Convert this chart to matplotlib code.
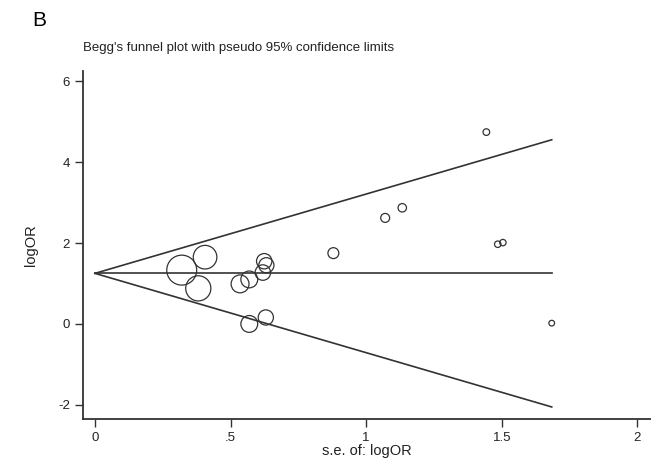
import numpy as np
import matplotlib.pyplot as plt

plt.rcParams['font.family'] = ['Liberation Sans', 'DejaVu Sans']
plt.rcParams['axes.unicode_minus'] = False

# study standard errors and log odds ratios
se = np.array([0.32, 0.406, 0.381, 0.535, 0.569, 0.619, 0.624, 0.632, 0.569, 0.63,
               0.879, 1.07, 1.133, 1.443, 1.485, 1.504, 1.684])
logor = np.array([1.33, 1.65, 0.88, 0.99, 1.10, 1.27, 1.55, 1.45, 0.0, 0.16,
                  1.75, 2.62, 2.87, 4.74, 1.97, 2.01, 0.02])
pooled = 1.25
x_ticks = [0, 0.5, 1, 1.5, 2]
x_tick_labels = ['0', '.5', '1', '1.5', '2']
y_ticks = [-2, 0, 2, 4, 6]

fig = plt.figure(figsize=(6.51, 4.58), dpi=100)
ax = fig.add_axes([0.1275, 0.085, 0.8725, 0.76])

col = '#333333'
se_max = se.max()
ax.plot([0, se_max], [pooled, pooled], color=col, lw=1.2)
ax.plot([0, se_max], [pooled, pooled + 1.96 * se_max], color=col, lw=1.2)
ax.plot([0, se_max], [pooled, pooled - 1.96 * se_max], color=col, lw=1.2)

# marker area proportional to weight 1/se^2
sizes = (6.9 / se) ** 2
ax.scatter(se, logor, s=sizes, facecolors='none', edgecolors=col, linewidths=0.9, zorder=3)

ax.set_xlim(-0.044, 2.05)
ax.set_ylim(-2.35, 6.25)
ax.set_xticks(x_ticks)
ax.set_xticklabels(x_tick_labels)
ax.set_yticks(y_ticks)
for s in ['top', 'right']:
    ax.spines[s].set_visible(False)
for s in ['left', 'bottom']:
    ax.spines[s].set_color(col)
    ax.spines[s].set_linewidth(1.3)
ax.tick_params(direction='out', length=5.5, width=1, colors=col, labelsize=9.5,
               labelcolor='#222222', pad=4)
ax.set_xlabel('s.e. of: logOR', fontsize=10.5, color='#222222', labelpad=0)
ax.set_ylabel('logOR', fontsize=10.5, color='#222222', labelpad=14)

fig.text(0.128, 0.888, "Begg's funnel plot with pseudo 95% confidence limits", fontsize=9.5, color='#222222')
fig.text(0.049, 0.955, 'B', fontsize=15, color='black', va='center')

fig.savefig('out.png', dpi=100)
